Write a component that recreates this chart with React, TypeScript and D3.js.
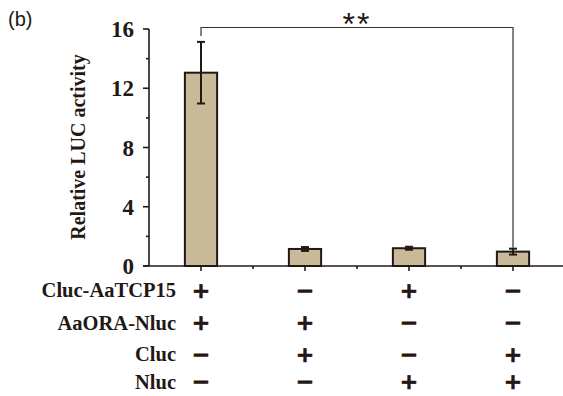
import React from 'react';
import * as d3 from 'd3';

const categories = ['G1', 'G2', 'G3', 'G4'];
const values = [13.05, 1.15, 1.2, 0.97];
const errors = [2.08, 0.13, 0.1, 0.2];
const yTicks = [0, 4, 8, 12, 16];
const yMinorTicks = [2, 6, 10, 14];
const rowLabels = ['Cluc-AaTCP15', 'AaORA-Nluc', 'Cluc', 'Nluc'];
const rowSigns = [
  ['+', '−', '+', '−'],
  ['+', '+', '−', '−'],
  ['−', '+', '−', '+'],
  ['−', '−', '+', '+'],
];
const sigLabel = '**';
const sigLevel = 16.1;
const panelLabel = '(b)';
const yTitle = 'Relative LUC activity';

const W = 563;
const H = 396;
const axisX = 149;
const axisY = 266;
const ink = '#231815';
const fill = '#C9BA9A';
const serif = '"Liberation Serif", "Times New Roman", serif';
const sans = '"Liberation Sans", Arial, sans-serif';

export default function App() {
  const x = d3.scaleBand<string>().domain(categories).range([axisX, axisX + 416]).padding(0);
  const y = d3.scaleLinear().domain([0, 16]).range([axisY, 29]);
  const bw = x.bandwidth() * 0.31;
  const cx = (c: string) => (x(c) as number) + x.bandwidth() / 2;
  const rowY = [290, 322.5, 354, 381.5];
  const signY = [290, 322.5, 354, 381];
  const signFs = 22;

  const leftX = cx(categories[0]);
  const rightX = cx(categories[3]);
  const bracketY = y(sigLevel);
  const leftBottom = y(values[0] + errors[0]) - 6;
  const rightBottom = y(values[3] + errors[3]) - 1;

  return (
    <svg width={W} height={H} style={{ position: 'absolute', left: 0, top: 0, background: '#fff' }}>
      <rect x={0} y={0} width={W} height={H} fill="#fff" />
      <text x={8} y={26} fontFamily={sans} fontSize={20} fill={ink}>{panelLabel}</text>

      {/* bars */}
      {categories.map((c, i) => (
        <rect key={c} x={cx(c) - bw / 2} y={y(values[i])} width={bw} height={axisY - y(values[i])}
          fill={fill} stroke={ink} strokeWidth={2} />
      ))}
      {/* error bars */}
      {categories.map((c, i) => {
        const top = y(values[i] + errors[i]);
        const bot = y(values[i] - errors[i]);
        return (
          <g key={c} stroke={ink} strokeWidth={2}>
            <line x1={cx(c)} x2={cx(c)} y1={top} y2={bot} />
            <line x1={cx(c) - 4} x2={cx(c) + 4} y1={top} y2={top} />
            <line x1={cx(c) - 4} x2={cx(c) + 4} y1={bot} y2={bot} />
          </g>
        );
      })}

      {/* y axis */}
      <line x1={axisX} x2={axisX} y1={y(16)} y2={axisY} stroke={ink} strokeWidth={1.6} />
      {yTicks.map((t) => (
        <g key={t}>
          <line x1={axisX - 6} x2={axisX} y1={y(t)} y2={y(t)} stroke={ink} strokeWidth={1.6} />
          <text x={134} y={y(t)} dy="0.35em" textAnchor="end" fontFamily={serif} fontWeight="bold" fontSize={23} fill={ink}>{t}</text>
        </g>
      ))}
      {yMinorTicks.map((t) => (
        <line key={t} x1={axisX - 3} x2={axisX} y1={y(t)} y2={y(t)} stroke={ink} strokeWidth={1.6} />
      ))}
      <text transform={`translate(78,147) rotate(-90)`} textAnchor="middle" dy="0.35em" fontFamily={serif} fontWeight="bold" fontSize={20} fill={ink}>{yTitle}</text>

      {/* x axis */}
      <line x1={axisX - 6} x2={W} y1={axisY} y2={axisY} stroke={ink} strokeWidth={1.6} />
      {categories.map((c) => (
        <line key={c} x1={cx(c)} x2={cx(c)} y1={axisY} y2={axisY + 5} stroke={ink} strokeWidth={1.6} />
      ))}
      {categories.slice(1).map((c) => (
        <line key={c} x1={x(c) as number} x2={x(c) as number} y1={axisY} y2={axisY + 3} stroke={ink} strokeWidth={1.6} />
      ))}

      {/* significance bracket */}
      <path d={`M${leftX},${leftBottom}V${bracketY}H${rightX}V${rightBottom}`} fill="none" stroke="#333" strokeWidth={1.2} />
      <text x={(leftX + rightX) / 2} y={35} textAnchor="middle" fontFamily={sans} fontSize={32} letterSpacing={2} fill={ink}>{sigLabel}</text>

      {/* treatment table */}
      {rowLabels.map((lab, r) => (
        <g key={lab}>
          <text x={176} y={rowY[r]} dy="0.35em" textAnchor="end" fontFamily={serif} fontWeight="bold" fontSize={20.5} fill={ink}>{lab}</text>
          {categories.map((c, i) => (
            <text key={c} x={cx(c)} y={signY[r] + signFs * 0.36} textAnchor="middle" fontFamily='"DejaVu Sans", sans-serif' fontWeight="bold" fontSize={signFs} fill={ink} stroke={ink} strokeWidth={0.7}>{rowSigns[r][i]}</text>
          ))}
        </g>
      ))}
    </svg>
  );
}
